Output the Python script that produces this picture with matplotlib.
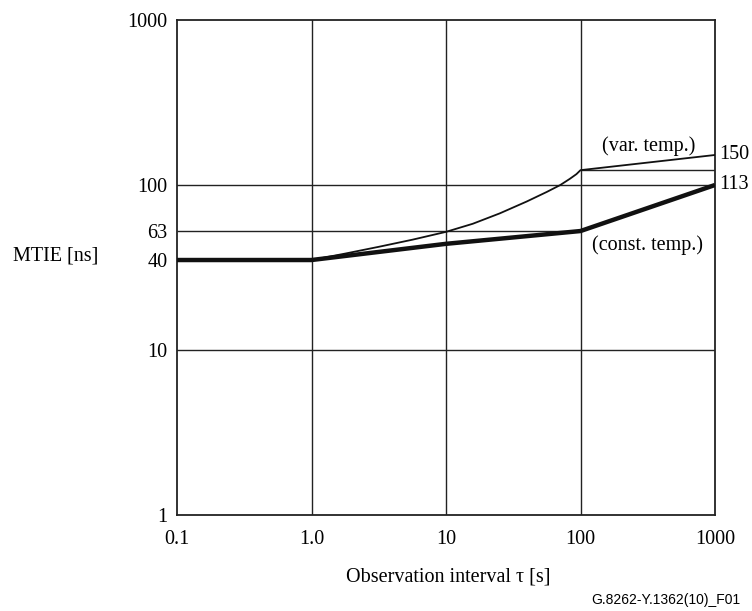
import matplotlib
matplotlib.use('Agg')
import matplotlib.pyplot as plt

# 数据（从图上读取，图本身是示意图，标注值与位置并不完全按比例）
tau_ticks = [0.1, 1, 10, 100, 1000]
tau_tick_labels = ['0.1', '1.0', '10', '100', '1000']
mtie_ticks = [1, 10, 100, 1000]

# 恒温曲线（粗线）
tau_const = [0.1, 1, 10, 100, 1000]
mtie_const = [35.1, 35.1, 44, 52.6, 100]

# 变温曲线（细线）
tau_var = [1, 1.78, 3.16, 5.62, 10, 15.8, 25.1, 39.8, 56.2, 70.8, 83.2, 93.3, 100, 1000]
mtie_var = [35.1, 38.4, 42.2, 46.6, 52.0, 58.2, 67.3, 79.4, 90.8, 100, 108.9, 116.4, 123, 152]

# 额外的参考水平线
level_63 = 52.6
level_40 = 35.1
level_knee = 123
end_labels = ['150', '113']
end_values = [152, 100]

plt.rcParams['font.family'] = ['Liberation Serif', 'DejaVu Serif']
fs = 14.5

fig = plt.figure(figsize=(7.52, 6.11), dpi=100)
ax = fig.add_axes([0.2354, 0.1571, 0.7154, 0.8102])
ax.set_xscale('log')
ax.set_yscale('log')
ax.set_xlim(0.1, 1000)
ax.set_ylim(1, 1000)

# 网格线
for t in tau_ticks[1:-1]:
    ax.axvline(t, color='#222222', linewidth=1.0, zorder=1)
for m in [10, 100]:
    ax.axhline(m, color='#222222', linewidth=1.0, zorder=1)
ax.hlines(level_63, 0.1, 100, color='#222222', linewidth=1.0, zorder=1)
ax.hlines(level_knee, 100, 1000, color='#222222', linewidth=1.0, zorder=1)

# 曲线
ax.plot(tau_var, mtie_var, color='#111111', linewidth=1.3, zorder=3)
ax.plot(tau_const, mtie_const, color='#111111', linewidth=3.2, zorder=4,
        solid_capstyle='butt')

# 刻度
ax.minorticks_off()
ax.set_xticks(tau_ticks)
ax.set_xticklabels(tau_tick_labels)
ax.set_yticks(mtie_ticks + [level_63, level_40])
ax.set_yticklabels([str(m) for m in mtie_ticks] + ['63', '40'])
ax.tick_params(length=0, labelsize=fs)
ax.tick_params(axis='y', pad=7)
ax.tick_params(axis='x', pad=11)
for s in ax.spines.values():
    s.set_linewidth(1.3)
    s.set_color('#222222')

# 文字标注
for lab, v in zip(end_labels, end_values):
    ax.text(1.008, v, lab, transform=ax.get_yaxis_transform(),
            fontsize=fs, va='center', ha='left')
ax.text(320, 172, '(var. temp.)', fontsize=fs, ha='center', va='center')
ax.text(315, 43, '(const. temp.)', fontsize=fs, ha='center', va='center')

fig.text(55.5 / 752, 1 - 256 / 611, 'MTIE [ns]', fontsize=fs,
         ha='center', va='center')
fig.text(448 / 752, 1 - 577 / 611, 'Observation interval τ [s]', fontsize=fs,
         ha='center', va='center')
fig.text(740 / 752, 1 - 600 / 611, 'G.8262-Y.1362(10)_F01', fontsize=10,
         ha='right', va='center', family=['Liberation Sans', 'DejaVu Sans'])

fig.savefig('out.png', dpi=100)
